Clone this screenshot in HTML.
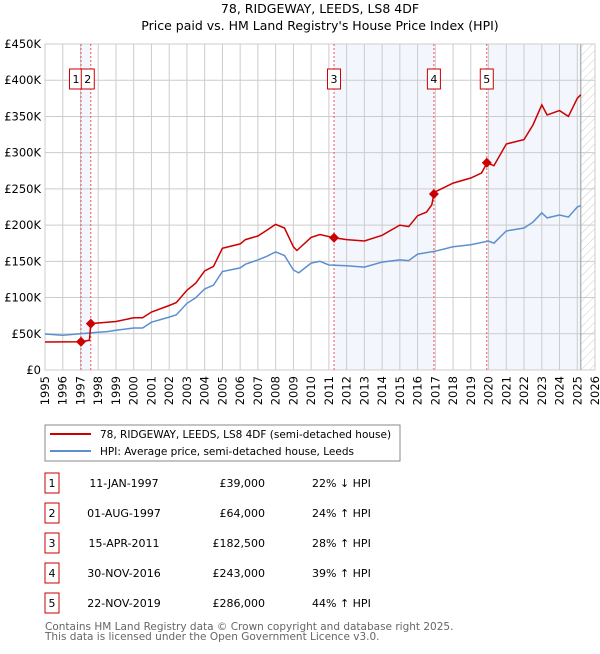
<!DOCTYPE html>
<html><head><meta charset="utf-8">
<style>
body{margin:0;background:#fff;font-family:"DejaVu Sans","Liberation Sans",sans-serif;}
svg text{font-family:"DejaVu Sans","Liberation Sans",sans-serif;}
</style></head>
<body>
<svg id="c" width="600" height="650" viewBox="0 0 600 650" xmlns="http://www.w3.org/2000/svg">
<defs><pattern id="hatch" width="6" height="6" patternUnits="userSpaceOnUse" patternTransform="rotate(45)"><line x1="0" y1="0" x2="0" y2="6" stroke="#ccc" stroke-width="1"/></pattern></defs>
<text x="320" y="13" font-size="12.5" text-anchor="middle">78, RIDGEWAY, LEEDS, LS8 4DF</text>
<text x="320" y="30" font-size="12.5" text-anchor="middle">Price paid vs. HM Land Registry's House Price Index (HPI)</text>
<g id="plot"></g>
<g>
<rect x="45" y="425" width="355" height="36" fill="#fff" stroke="#888"/>
<line x1="50" y1="434" x2="91" y2="434" stroke="#cc0000" stroke-width="2"/>
<text x="100" y="438" font-size="10.5">78, RIDGEWAY, LEEDS, LS8 4DF (semi-detached house)</text>
<line x1="50" y1="451" x2="91" y2="451" stroke="#5b8fd0" stroke-width="2"/>
<text x="100" y="455" font-size="10.5">HPI: Average price, semi-detached house, Leeds</text>
</g>
<g id="table"></g>
<text x="45" y="630" font-size="10.5" fill="#666">Contains HM Land Registry data © Crown copyright and database right 2025.</text>
<text x="45" y="640" font-size="10.5" fill="#666">This data is licensed under the Open Government Licence v3.0.</text>
</svg>
<script>
const hpiYears=[1995,1996,1997,1998,1998.5,1999,2000,2000.5,2001,2002,2002.4,2003,2003.5,2004,2004.5,2005,2006,2006.3,2007,2007.5,2008,2008.5,2009,2009.3,2010,2010.5,2011,2012,2013,2014,2015,2015.5,2016,2017,2018,2019,2020,2020.3,2021,2022,2022.5,2023,2023.3,2024,2024.5,2025,2025.2];
const hpiValues=[49.7,48,50,52,53,55,58,58,66,73,76,92,100,112,117,136,141,146,152,157,163,158,138,134,147.5,150,145,144,142,149,152,151,160,164,170,173,178,175,192,196,204,217,210,214,211,225,227];
const priceYears=[1995,1997.03,1997.5,1997.58,1998.5,1999,2000,2000.5,2001,2002,2002.4,2003,2003.5,2004,2004.5,2005,2006,2006.3,2007,2007.5,2008,2008.5,2009,2009.2,2010,2010.5,2011.29,2012,2013,2014,2015,2015.5,2016,2016.5,2016.8,2016.92,2017,2018,2019,2019.6,2019.92,2020.3,2021,2022,2022.5,2023,2023.3,2024,2024.5,2025,2025.2];
const priceValues=[38.7,39,41,64,66,67,72,72,80,89,93,110,120,137,143,168,174,180,185,193,201,196,170,165,183,187,182.5,180,178,186,200,198,213,218,228,243,246,258,265,272,286,282,312,318,338,366,352,358,350,375,380];
const saleLabels=["1","2","3","4","5"];
const saleYears=[1997.03,1997.58,2011.29,2016.92,2019.9];
const saleValues=[39,64,182.5,243,286];
const saleDates=["11-JAN-1997","01-AUG-1997","15-APR-2011","30-NOV-2016","22-NOV-2019"];
const salePrices=["£39,000","£64,000","£182,500","£243,000","£286,000"];
const saleHpi=["22% ↓ HPI","24% ↑ HPI","28% ↑ HPI","39% ↑ HPI","44% ↑ HPI"];
const yTicks=[0,50,100,150,200,250,300,350,400,450];
const yTickLabels=["£0","£50K","£100K","£150K","£200K","£250K","£300K","£350K","£400K","£450K"];
const xTicks=[1995,1996,1997,1998,1999,2000,2001,2002,2003,2004,2005,2006,2007,2008,2009,2010,2011,2012,2013,2014,2015,2016,2017,2018,2019,2020,2021,2022,2023,2024,2025,2026];
const dataEnd=2025.2;

const NS="http://www.w3.org/2000/svg";
const L=45,R=595,T=44,B=370;
const x=v=>L+(v-1995)/(2026-1995)*(R-L);
const y=v=>B-v/450*(B-T);
function mk(tag,attrs,parent){const e=document.createElementNS(NS,tag);for(const k in attrs)e.setAttribute(k,attrs[k]);parent.appendChild(e);return e;}
const g=document.getElementById('plot');
const bands=[[0,1],[2,3],[4,null]];
bands.forEach(b=>{const x0=x(saleYears[b[0]]),x1=b[1]===null?x(dataEnd):x(saleYears[b[1]]);
const r=mk('rect',{x:x0,y:T,width:x1-x0,height:B-T,fill:'#eef2fc',opacity:0.7},g);

});
const h=mk('rect',{x:x(dataEnd),y:T,width:R-x(dataEnd),height:B-T,fill:'url(#hatch)'},g);


yTicks.forEach((v,i)=>{mk('line',{x1:L,x2:R,y1:y(v),y2:y(v),stroke:'#ccc','stroke-width':1},g);
const t=mk('text',{x:L-4,y:y(v)+4,'font-size':11.5,'text-anchor':'end'},g);t.textContent=yTickLabels[i];

});
xTicks.forEach(v=>{mk('line',{x1:x(v),x2:x(v),y1:T,y2:B,stroke:'#ccc','stroke-width':1},g);
const t=mk('text',{x:0,y:0,'font-size':11.5,'text-anchor':'end',transform:`translate(${x(v)+4},${B+6}) rotate(-90)`},g);t.textContent=v;

});
mk('line',{x1:x(dataEnd),x2:x(dataEnd),y1:T,y2:B,stroke:'#999','stroke-width':1},g);
mk('rect',{x:L,y:T,width:R-L,height:B-T,fill:'none',stroke:'#ccc'},g);
saleYears.forEach((v,i)=>{mk('line',{x1:x(v),x2:x(v),y1:T,y2:B,stroke:'#e55','stroke-width':1,'stroke-dasharray':'2,2'},g);});
saleYears.forEach((v,i)=>{let cx=x(v);if(i===0)cx-=5;if(i===1)cx-=3;
const r=mk('rect',{x:cx-6.5,y:69,width:13,height:20,fill:'#fff',stroke:'#cc0000'},g);


const t=mk('text',{x:cx,y:83,'font-size':11,'text-anchor':'middle'},g);t.textContent=saleLabels[i];});
const path=(xs,vs)=>xs.map((v,i)=>(i?'L':'M')+x(v).toFixed(1)+','+y(vs[i]).toFixed(1)).join('');
const hp=mk('path',{d:path(hpiYears,hpiValues),fill:'none',stroke:'#5b8fd0','stroke-width':1.5},g);


const pp=mk('path',{d:path(priceYears,priceValues),fill:'none',stroke:'#cc0000','stroke-width':1.5},g);


saleYears.forEach((v,i)=>{const cx=x(v),cy=y(saleValues[i]);
const d=mk('path',{d:`M${cx},${cy-5}L${cx+5},${cy}L${cx},${cy+5}L${cx-5},${cy}Z`,fill:'#cc0000'},g);

});
const tb=document.getElementById('table');
saleLabels.forEach((l,i)=>{const cy=483+i*30;
const r=mk('rect',{x:45,y:cy-10,width:14,height:20,fill:'#fff',stroke:'#cc0000'},tb);


const a=mk('text',{x:52,y:cy+4,'font-size':11,'text-anchor':'middle'},tb);a.textContent=l;
const b=mk('text',{x:124,y:cy+4,'font-size':11,'text-anchor':'middle'},tb);b.textContent=saleDates[i];


const c=mk('text',{x:265,y:cy+4,'font-size':11,'text-anchor':'end'},tb);c.textContent=salePrices[i];


const d=mk('text',{x:312,y:cy+4,'font-size':11},tb);d.textContent=saleHpi[i];

});
</script>
</body></html>
